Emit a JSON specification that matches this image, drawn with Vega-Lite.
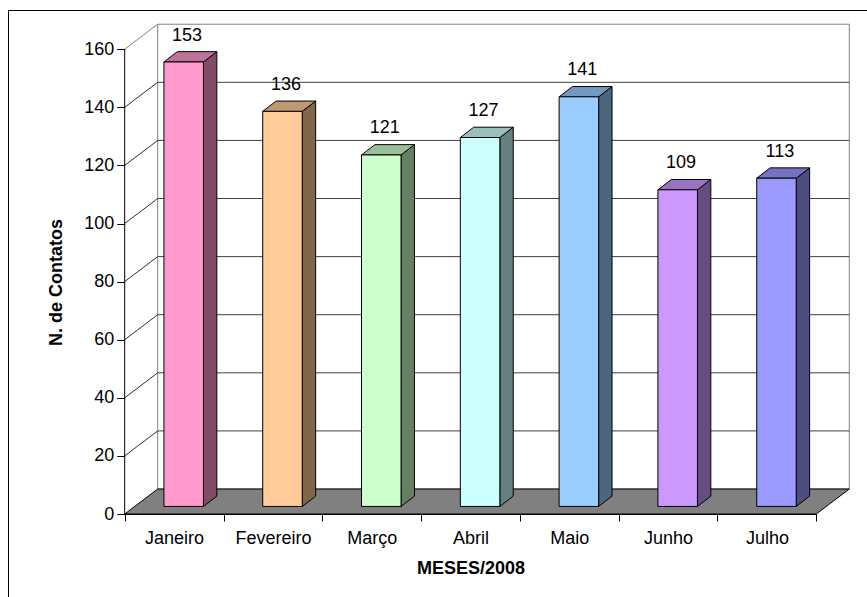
{
  "$schema": "https://vega.github.io/schema/vega-lite/v6.json",
  "width": 859,
  "height": 587,
  "autosize": "none",
  "padding": {"left": 8, "top": 10, "right": 0, "bottom": 0},
  "background": "white",
  "config": {
    "view": {"stroke": null},
    "axis": {
      "labelFont": "Liberation Sans",
      "labelFontSize": 18,
      "labelColor": "black",
      "titleFont": "Liberation Sans",
      "titleFontSize": 18,
      "titleFontWeight": "bold",
      "titleColor": "black",
      "tickColor": "black",
      "domainColor": "black"
    },
    "text": {"font": "Liberation Sans"}
  },
  "datasets": {
    "contatos": [
      {"mes": "Janeiro", "contatos": 153},
      {"mes": "Fevereiro", "contatos": 136},
      {"mes": "Março", "contatos": 121},
      {"mes": "Abril", "contatos": 127},
      {"mes": "Maio", "contatos": 141},
      {"mes": "Junho", "contatos": 109},
      {"mes": "Julho", "contatos": 113}
    ],
    "divisoes": [
      {"valor": 20}, {"valor": 40}, {"valor": 60}, {"valor": 80},
      {"valor": 100}, {"valor": 120}, {"valor": 140}, {"valor": 160}
    ]
  },
  "data": {"name": "contatos"},
  "resolve": {"scale": {"x": "independent", "fill": "independent"}},
  "layer": [
    {
      "transform": [
        {"aggregate": [{"op": "count", "as": "n"}]},
        {"calculate": "0.334", "as": "x0"},
        {"calculate": "datum.n + 0.334", "as": "x1"},
        {"calculate": "8.6", "as": "y0"},
        {"calculate": "168.6", "as": "y1"}
      ],
      "mark": {"type": "rect", "fill": "white", "stroke": "#808080", "strokeWidth": 1},
      "encoding": {
        "x": {
          "field": "x0", "type": "quantitative",
          "scale": {"domain": [-1.1812, 7.5132], "nice": false, "zero": false},
          "axis": {
            "orient": "top", "values": [-1.1812], "grid": true, "gridColor": "black",
            "gridWidth": 1, "ticks": false, "labels": false,
            "domain": false, "title": null, "zindex": 1
          }
        },
        "x2": {"field": "x1"},
        "y": {
          "field": "y0", "type": "quantitative",
          "scale": {"domain": [-28.571, 173.494], "nice": false, "zero": false},
          "axis": {
            "orient": "left", "offset": -116.7, "zindex": 1,
            "values": [0, 20, 40, 60, 80, 100, 120, 140, 160, 173.494],
            "domain": false,
            "tickSize": 8,
            "tickOpacity": {"condition": {"test": "datum.value > 165", "value": 0}, "value": 1},
            "labelPadding": 3,
            "labelExpr": "datum.value > 165 ? '' : datum.label",
            "grid": true,
            "gridColor": "black",
            "gridOpacity": {"condition": {"test": "datum.value > 165", "value": 1}, "value": 0},
            "title": "N. de Contatos",
            "titleX": -62.7,
            "titleY": 272,
            "titleAngle": -90,
            "titleAlign": "center",
            "titleBaseline": "alphabetic"
          }
        },
        "y2": {"field": "y1"}
      }
    },
    {
      "data": {"name": "divisoes"},
      "transform": [
        {"filter": "datum.valor < 160"},
        {"calculate": "0.334", "as": "xa"},
        {"calculate": "7.334", "as": "xb"},
        {"calculate": "datum.valor + 8.6", "as": "yb"}
      ],
      "mark": {"type": "rule", "stroke": "#404040", "strokeWidth": 1},
      "encoding": {
        "x": {"field": "xa", "type": "quantitative", "scale": {"domain": [-1.1812, 7.5132], "nice": false, "zero": false}, "axis": null},
        "x2": {"field": "xb"},
        "y": {"field": "yb", "type": "quantitative", "scale": {"domain": [-28.571, 173.494], "nice": false, "zero": false}}
      }
    },
    {
      "data": {"name": "divisoes"},
      "transform": [
        {"calculate": "0", "as": "xa"},
        {"calculate": "0.334", "as": "xb"},
        {"calculate": "datum.valor + 8.6", "as": "yb"}
      ],
      "mark": {"type": "rule", "strokeWidth": 1},
      "encoding": {
        "x": {"field": "xa", "type": "quantitative", "scale": {"domain": [-1.1812, 7.5132], "nice": false, "zero": false}, "axis": null},
        "x2": {"field": "xb"},
        "y": {"field": "valor", "type": "quantitative", "scale": {"domain": [-28.571, 173.494], "nice": false, "zero": false}},
        "y2": {"field": "yb"},
        "stroke": {"condition": {"test": "datum.valor >= 160", "value": "#808080"}, "value": "#303030"}
      }
    },
    {
      "transform": [
        {"aggregate": [{"op": "count", "as": "n"}]},
        {"calculate": "0", "as": "frente"},
        {"calculate": "1", "as": "fundo"},
        {"fold": ["frente", "fundo"], "as": ["lado", "k"]},
        {"calculate": "datum.k * 8.6", "as": "yp"},
        {"calculate": "datum.k * 0.334", "as": "xa"},
        {"calculate": "datum.n + datum.k * 0.334", "as": "xb"}
      ],
      "mark": {"type": "area", "orient": "horizontal", "fill": "#808080", "stroke": "black", "strokeWidth": 1},
      "encoding": {
        "y": {"field": "yp", "type": "quantitative", "scale": {"domain": [-28.571, 173.494], "nice": false, "zero": false}},
        "x": {"field": "xa", "type": "quantitative", "scale": {"domain": [-1.1812, 7.5132], "nice": false, "zero": false}, "axis": null},
        "x2": {"field": "xb"}
      }
    },
    {
      "transform": [{"aggregate": [{"op": "count", "as": "n"}]}],
      "mark": {"type": "rule", "stroke": "black", "strokeWidth": 1},
      "encoding": {
        "x": {"datum": 0, "type": "quantitative", "scale": {"domain": [-1.1812, 7.5132], "nice": false, "zero": false}, "axis": null},
        "y": {"datum": 0, "type": "quantitative", "scale": {"domain": [-28.571, 173.494], "nice": false, "zero": false}},
        "y2": {"datum": 160}
      }
    },
    {
      "transform": [
        {"window": [{"op": "row_number", "as": "ordem"}]},
        {"calculate": "datum.ordem - 1", "as": "i"},
        {"calculate": "0", "as": "frente"},
        {"calculate": "1", "as": "fundo"},
        {"fold": ["frente", "fundo"], "as": ["lado", "k"]},
        {"calculate": "datum.i + 0.797 + datum.k * 0.1356", "as": "xs"},
        {"calculate": "2.6 + datum.k * 3.55", "as": "ys0"},
        {"calculate": "datum.contatos + 2.6 + datum.k * 3.55", "as": "ys1"}
      ],
      "mark": {"type": "area", "orient": "vertical", "stroke": "black", "strokeWidth": 1},
      "encoding": {
        "x": {"field": "xs", "type": "quantitative", "scale": {"domain": [-1.1812, 7.5132], "nice": false, "zero": false}, "axis": null},
        "y": {"field": "ys1", "type": "quantitative", "scale": {"domain": [-28.571, 173.494], "nice": false, "zero": false}},
        "y2": {"field": "ys0"},
        "detail": {"field": "mes"},
        "fill": {
          "field": "mes", "type": "nominal", "legend": null,
          "scale": {
            "domain": ["Janeiro", "Fevereiro", "Março", "Abril", "Maio", "Junho", "Julho"],
            "range": ["#804D66", "#80664D", "#668066", "#668080", "#4D6680", "#664D80", "#4D4D80"]
          }
        }
      }
    },
    {
      "transform": [
        {"window": [{"op": "row_number", "as": "ordem"}]},
        {"calculate": "datum.ordem - 1", "as": "i"},
        {"calculate": "0", "as": "frente"},
        {"calculate": "1", "as": "fundo"},
        {"fold": ["frente", "fundo"], "as": ["lado", "k"]},
        {"calculate": "datum.i + 0.397 + datum.k * 0.1356", "as": "xt0"},
        {"calculate": "datum.i + 0.797 + datum.k * 0.1356", "as": "xt1"},
        {"calculate": "datum.contatos + 2.6 + datum.k * 3.55", "as": "yt"}
      ],
      "mark": {"type": "area", "orient": "horizontal", "stroke": "black", "strokeWidth": 1},
      "encoding": {
        "y": {"field": "yt", "type": "quantitative", "scale": {"domain": [-28.571, 173.494], "nice": false, "zero": false}},
        "x": {"field": "xt0", "type": "quantitative", "scale": {"domain": [-1.1812, 7.5132], "nice": false, "zero": false}, "axis": null},
        "x2": {"field": "xt1"},
        "detail": {"field": "mes"},
        "fill": {
          "field": "mes", "type": "nominal", "legend": null,
          "scale": {
            "domain": ["Janeiro", "Fevereiro", "Março", "Abril", "Maio", "Junho", "Julho"],
            "range": ["#BF7399", "#BF9973", "#99BF99", "#99BFBF", "#7399BF", "#9973BF", "#7373BF"]
          }
        }
      }
    },
    {
      "transform": [
        {"window": [{"op": "row_number", "as": "ordem"}]},
        {"calculate": "datum.ordem - 1", "as": "i"},
        {"calculate": "datum.i + 0.397", "as": "xf0"},
        {"calculate": "datum.i + 0.797", "as": "xf1"},
        {"calculate": "2.6", "as": "yf0"},
        {"calculate": "datum.contatos + 2.6", "as": "yf1"}
      ],
      "mark": {"type": "rect", "stroke": "black", "strokeWidth": 1},
      "encoding": {
        "x": {"field": "xf0", "type": "quantitative", "scale": {"domain": [-1.1812, 7.5132], "nice": false, "zero": false}, "axis": null},
        "x2": {"field": "xf1"},
        "y": {"field": "yf0", "type": "quantitative", "scale": {"domain": [-28.571, 173.494], "nice": false, "zero": false}},
        "y2": {"field": "yf1"},
        "fill": {
          "field": "mes", "type": "nominal", "legend": null,
          "scale": {
            "domain": ["Janeiro", "Fevereiro", "Março", "Abril", "Maio", "Junho", "Julho"],
            "range": ["#FF99CC", "#FFCC99", "#CCFFCC", "#CCFFFF", "#99CCFF", "#CC99FF", "#9999FF"]
          }
        }
      }
    },
    {
      "mark": {"type": "text", "fontSize": 18, "baseline": "alphabetic", "align": "center", "xOffset": 13, "yOffset": -29, "color": "black"},
      "encoding": {
        "x": {
          "field": "mes", "type": "nominal", "sort": null,
          "scale": {"type": "band", "range": [116.7, 808.3], "paddingInner": 0, "paddingOuter": 0},
          "axis": {
            "orient": "bottom", "offset": -83, "tickBand": "extent", "tickSize": 7,
            "labelAngle": 0, "labelPadding": 22, "labelBaseline": "alphabetic",
            "grid": false, "domain": true,
            "title": "MESES/2008", "titleY": 59, "titleBaseline": "alphabetic"
          }
        },
        "y": {"field": "contatos", "type": "quantitative", "scale": {"domain": [-28.571, 173.494], "nice": false, "zero": false}},
        "text": {"field": "contatos", "type": "quantitative"}
      }
    }
  ]
}
